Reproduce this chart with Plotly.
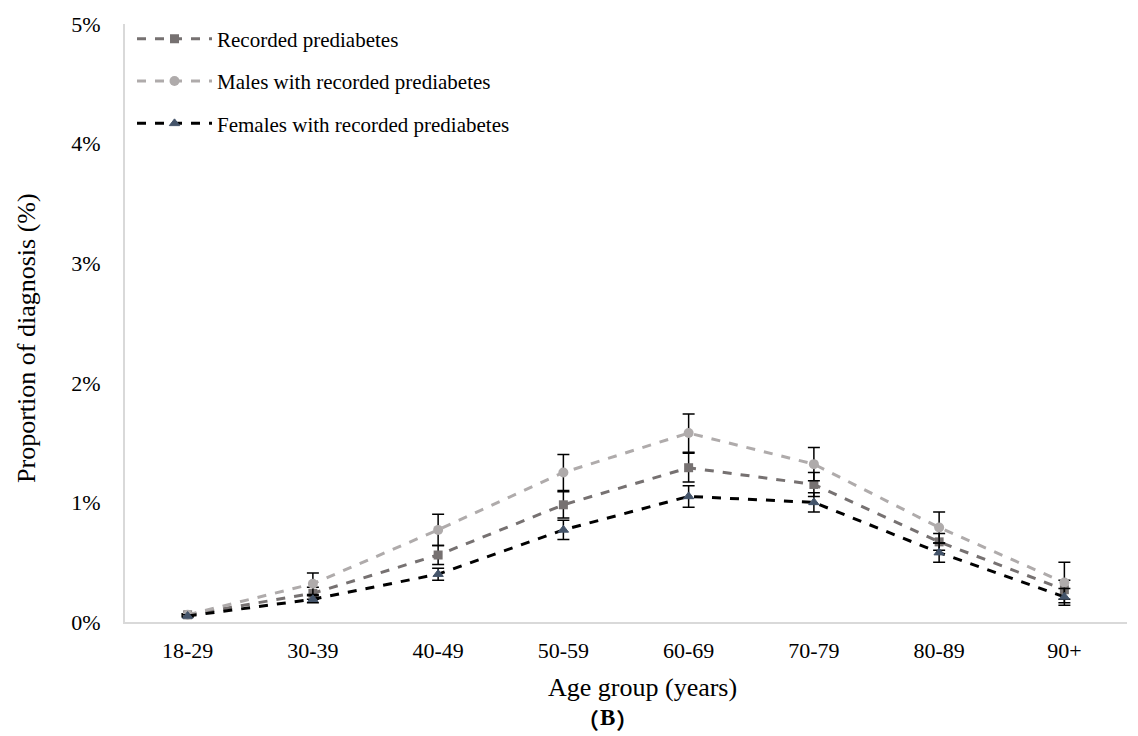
import plotly.graph_objects as go

age_groups = ["18-29", "30-39", "40-49", "50-59", "60-69", "70-79", "80-89", "90+"]

recorded = [0.06, 0.24, 0.56, 0.98, 1.29, 1.15, 0.67, 0.27]
recorded_err = [0.01, 0.05, 0.08, 0.11, 0.12, 0.10, 0.07, 0.08]

males = [0.06, 0.32, 0.77, 1.25, 1.58, 1.32, 0.79, 0.33]
males_err = [0.01, 0.09, 0.13, 0.15, 0.16, 0.14, 0.13, 0.17]

females = [0.05, 0.19, 0.40, 0.77, 1.05, 1.00, 0.58, 0.21]
females_err = [0.01, 0.03, 0.05, 0.08, 0.09, 0.08, 0.08, 0.07]

y_ticks = [0, 1, 2, 3, 4, 5]
y_tick_labels = ["0%", "1%", "2%", "3%", "4%", "5%"]

FONT = "Liberation Serif, Times New Roman, serif"
CJK = "Noto Sans CJK SC"

def err(vals):
    return dict(type="data", array=vals, visible=True, color="black", thickness=1.5, width=6)

fig = go.Figure()
fig.add_trace(go.Scatter(
    x=age_groups, y=recorded, name="Recorded prediabetes", mode="lines+markers",
    line=dict(color="#767171", width=3, dash="dash"),
    marker=dict(symbol="square", size=9, color="#767171"),
    error_y=err(recorded_err), legendgroup="a"))
fig.add_trace(go.Scatter(
    x=age_groups, y=males, name="Males with recorded prediabetes", mode="lines+markers",
    line=dict(color="#AFABAB", width=3, dash="dash"),
    marker=dict(symbol="circle", size=10, color="#AFABAB"),
    error_y=err(males_err), legendgroup="b"))
fig.add_trace(go.Scatter(
    x=age_groups, y=females, name="Females with recorded prediabetes", mode="lines+markers",
    line=dict(color="#000000", width=3, dash="dash"),
    marker=dict(symbol="triangle-up", size=9, color="#44546A", line=dict(color="#44546A", width=1)),
    error_y=err(females_err), legendgroup="c"))

fig.update_layout(
    width=1138, height=736,
    margin=dict(l=125, r=11, t=24, b=114),
    paper_bgcolor="white", plot_bgcolor="white",
    font=dict(family=FONT, size=22, color="black"),
    showlegend=True,
    legend=dict(x=0.007, y=1.009, xanchor="left", yanchor="top",
                font=dict(family=FONT, size=21, color="black"),
                bgcolor="rgba(0,0,0,0)", itemwidth=75,
                traceorder="grouped", tracegroupgap=12),
    xaxis=dict(type="category", range=[-0.5, 7.5], showgrid=False,
               showline=True, linecolor="#D9D9D9", linewidth=2,
               ticks="outside", ticklen=8, tickcolor="rgba(0,0,0,0)",
               tickfont=dict(size=22)),
    yaxis=dict(range=[0, 5], tickmode="array", tickvals=y_ticks, ticktext=y_tick_labels,
               showgrid=False, zeroline=False,
               showline=True, linecolor="#D9D9D9", linewidth=2,
               ticks="outside", ticklen=18, tickcolor="rgba(0,0,0,0)",
               tickfont=dict(size=22)),
    annotations=[
        dict(text="Age group (years)", x=0.516, y=-0.110, xref="paper", yref="paper",
             yanchor="middle", xanchor="center", showarrow=False,
             font=dict(family=FONT, size=26)),
        dict(text="Proportion of diagnosis (%)", x=-0.0978, y=0.475, xref="paper", yref="paper",
             yanchor="middle", xanchor="center", showarrow=False, textangle=-90,
             font=dict(family=FONT, size=26)),
        dict(text="<b>（</b>", x=0.475, y=-0.1605, xref="paper", yref="paper",
             yanchor="middle", xanchor="right", showarrow=False,
             font=dict(family=CJK, size=22)),
        dict(text="<b>B</b>", x=0.4815, y=-0.1605, xref="paper", yref="paper",
             yanchor="middle", xanchor="center", showarrow=False,
             font=dict(family=FONT, size=23)),
        dict(text="<b>）</b>", x=0.488, y=-0.1605, xref="paper", yref="paper",
             yanchor="middle", xanchor="left", showarrow=False,
             font=dict(family=CJK, size=22)),
    ],
)

fig.write_html("out.html")
